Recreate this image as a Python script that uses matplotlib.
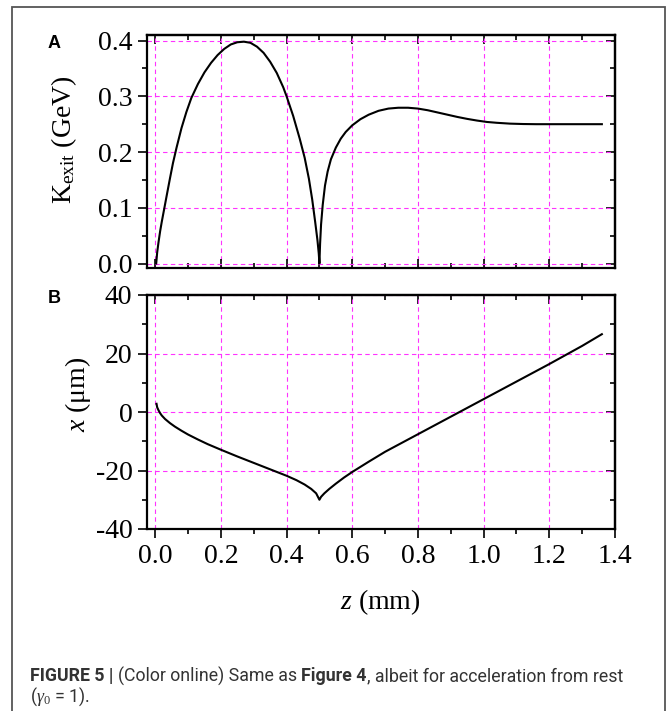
import matplotlib
matplotlib.use("Agg")
import matplotlib.pyplot as plt
from matplotlib.patches import Rectangle
from matplotlib.ticker import MultipleLocator, FormatStrFormatter

# ---- data ----
# panel A: exit kinetic energy vs z
z_a = [0.003, 0.006, 0.01, 0.015, 0.02, 0.028, 0.035, 0.045, 0.054, 0.065, 0.08, 0.095,
       0.11, 0.13, 0.15, 0.17, 0.19, 0.21, 0.23, 0.25, 0.27, 0.29, 0.31, 0.33, 0.35, 0.37,
       0.39, 0.40, 0.42, 0.44, 0.455, 0.468, 0.478, 0.487, 0.494, 0.498, 0.5,
       0.502, 0.505, 0.51, 0.517, 0.525, 0.535, 0.55, 0.565, 0.58, 0.60, 0.625, 0.65, 0.68,
       0.71, 0.74, 0.77, 0.80, 0.83, 0.86, 0.89, 0.92, 0.95, 0.98, 1.01, 1.04, 1.08, 1.12,
       1.16, 1.25, 1.36]
k_exit = [0.0, 0.02, 0.038, 0.058, 0.075, 0.1, 0.122, 0.153, 0.18, 0.208, 0.243, 0.272,
          0.297, 0.322, 0.343, 0.36, 0.374, 0.385, 0.393, 0.397, 0.398, 0.396, 0.389, 0.378,
          0.362, 0.342, 0.316, 0.30, 0.265, 0.224, 0.19, 0.152, 0.115, 0.075, 0.042, 0.018, 0.0,
          0.035, 0.07, 0.105, 0.14, 0.165, 0.187, 0.208, 0.224, 0.236, 0.248, 0.259, 0.267,
          0.274, 0.278, 0.2795, 0.2795, 0.278, 0.275, 0.271, 0.267, 0.263, 0.2595, 0.2565,
          0.254, 0.2525, 0.251, 0.2503, 0.25, 0.25, 0.25]

# panel B: transverse position vs z
z_b = [0.004, 0.006, 0.01, 0.015, 0.02, 0.03, 0.045, 0.06, 0.08, 0.1, 0.13, 0.16, 0.2,
       0.25, 0.3, 0.35, 0.4, 0.43, 0.455, 0.475, 0.49, 0.5,
       0.505, 0.515, 0.53, 0.55, 0.575, 0.6, 0.65, 0.7, 0.8, 0.9, 1.0, 1.1, 1.2, 1.3, 1.36]
x_um = [2.8, 1.6, 0.6, -0.4, -1.2, -2.4, -3.8, -5.0, -6.4, -7.7, -9.4, -11.0, -12.9,
        -15.2, -17.4, -19.6, -21.8, -23.3, -24.8, -26.3, -27.8, -30.0,
        -29.0, -27.8, -26.3, -24.5, -22.4, -20.5, -17.0, -13.6, -7.6, -1.6, 4.4, 10.4,
        16.4, 22.6, 26.6]

caption_parts = [("FIGURE 5 | ", "bold"), ("(Color online) Same as ", "normal"),
                 ("Figure 4", "bold"), (", albeit for acceleration from rest", "normal")]
caption_line2 = r"($\gamma_0$ = 1)."

W, H = 670, 711
plt.rcParams["font.family"] = ["Liberation Serif", "DejaVu Serif"]
plt.rcParams["mathtext.fontset"] = "custom"
plt.rcParams["mathtext.rm"] = "Liberation Serif"
plt.rcParams["mathtext.it"] = "Liberation Serif:italic"
plt.rcParams["axes.unicode_minus"] = False

fig = plt.figure(figsize=(W / 100, H / 100), dpi=100)


def px_axes(left, top, right, bottom):
    return fig.add_axes([left / W, 1 - bottom / H, (right - left) / W, (bottom - top) / H])


ax_a = px_axes(147, 35, 615, 268)
ax_b = px_axes(147, 295, 615, 529)

grid_kw = dict(color="#ff33ff", linestyle=(0, (4, 3)), linewidth=0.8)
tick_font = 20
spine_lw = 1.6

for ax in (ax_a, ax_b):
    ax.set_xlim(-0.025, 1.4)
    ax.xaxis.set_major_locator(MultipleLocator(0.2))
    ax.xaxis.set_minor_locator(MultipleLocator(0.1))
    ax.xaxis.set_major_formatter(FormatStrFormatter("%.1f"))
    ax.grid(True, which="major", **grid_kw)
    ax.set_axisbelow(True)
    for s in ax.spines.values():
        s.set_linewidth(spine_lw)
    ax.tick_params(which="both", width=1.2, labelsize=tick_font, pad=4)
    ax.tick_params(which="major", length=6.5)
    ax.tick_params(which="minor", length=3.5)
    # left ticks outward, right/top handled by secondary axes below
    ax.tick_params(axis="y", which="both", direction="out", right=False)
    ax.tick_params(axis="x", which="both", top=False)

ax_a.plot(z_a, k_exit, color="black", linewidth=1.5)
ax_a.set_ylim(-0.008, 0.41)
ax_a.yaxis.set_major_locator(MultipleLocator(0.1))
ax_a.yaxis.set_minor_locator(MultipleLocator(0.05))
ax_a.yaxis.set_major_formatter(FormatStrFormatter("%.1f"))
ax_a.tick_params(axis="x", which="both", direction="in", labelbottom=False)

ax_b.plot(z_b, x_um, color="black", linewidth=1.5)
ax_b.set_ylim(-40, 40)
ax_b.yaxis.set_major_locator(MultipleLocator(20))
ax_b.yaxis.set_minor_locator(MultipleLocator(10))
ax_b.tick_params(axis="x", which="both", direction="out")

# inward ticks on the right side and on top
for ax in (ax_a, ax_b):
    sec_y = ax.secondary_yaxis("right")
    sec_y.yaxis.set_major_locator(ax.yaxis.get_major_locator())
    sec_y.yaxis.set_minor_locator(ax.yaxis.get_minor_locator())
    sec_y.tick_params(which="both", direction="in", width=1.2, labelright=False)
    sec_y.tick_params(which="major", length=6.5)
    sec_y.tick_params(which="minor", length=3.5)
    sec_y.spines["right"].set_linewidth(spine_lw)
    sec_x = ax.secondary_xaxis("top")
    sec_x.xaxis.set_major_locator(MultipleLocator(0.2))
    sec_x.xaxis.set_minor_locator(MultipleLocator(0.1))
    sec_x.tick_params(which="both", direction="in", width=1.2, labeltop=False)
    sec_x.tick_params(which="major", length=6.5)
    sec_x.tick_params(which="minor", length=3.5)
    sec_x.spines["top"].set_linewidth(spine_lw)

ax_a.set_ylabel(r"K$_{\mathrm{exit}}$ (GeV)", fontsize=tick_font, va="center")
ax_a.yaxis.set_label_coords((64 - 147) / 468, (268 - 140) / 233)
ax_b.set_ylabel(r"$x$ ($\mathrm{\mu}$m)", fontsize=tick_font, va="center")
ax_b.yaxis.set_label_coords((78 - 147) / 468, (529 - 394) / 234)
ax_b.set_xlabel(r"$z$ (mm)", fontsize=tick_font, va="center")
ax_b.xaxis.set_label_coords((380 - 147) / 468, (529 - 602) / 234)

fig.text(54 / W, 1 - 44 / H, "A", family="Liberation Sans", weight="bold", fontsize=13,
         ha="center", va="center")
fig.text(54 / W, 1 - 298 / H, "B", family="Liberation Sans", weight="bold", fontsize=13,
         ha="center", va="center")

# outer frame of the figure panel
fig.patches.append(Rectangle((12 / W, -0.02), (665 - 12) / W, 1.02 - 7 / H,
                             transform=fig.transFigure, fill=False,
                             edgecolor="#555555", linewidth=1.3))

# caption, built piece by piece so that bold runs sit inline
cap_family = ["Roboto", "Liberation Sans", "DejaVu Sans"]
cap_color = "#333333"
cap_size = 11.5
renderer = fig.canvas.get_renderer()
x0 = 30
pieces = []
for txt, wt in caption_parts:
    t = fig.text(x0 / W, 1 - 676 / H, txt, family=cap_family, weight=wt, fontsize=cap_size,
                 color=cap_color, ha="left", va="center")
    pieces.append(t)
# fit the line width to about 598 px
total = sum(t.get_window_extent(renderer).width for t in pieces)
scale = 598 / total
x = x0
for t in pieces:
    t.set_fontsize(cap_size * scale)
    t.set_x(x / W)
    x += t.get_window_extent(renderer).width
fig.text(x0 / W, 1 - 697 / H, caption_line2, family=cap_family, fontsize=cap_size * scale,
         color=cap_color, ha="left", va="center")

fig.savefig("out.png", dpi=100)
